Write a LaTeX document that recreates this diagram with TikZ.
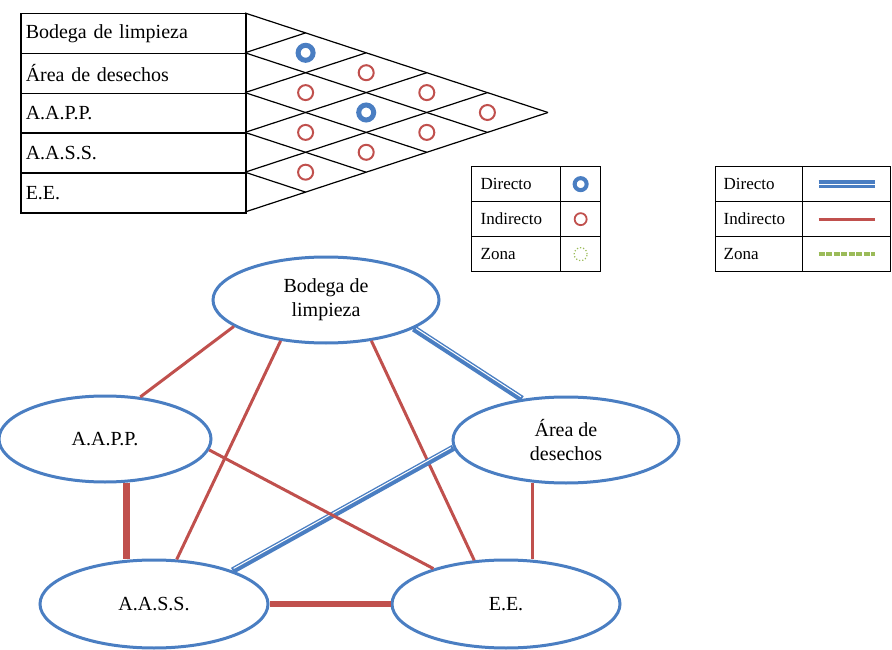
\documentclass[tikz,border=0pt]{standalone}
\usepackage{fontspec}
\setmainfont{Liberation Serif}
\usetikzlibrary{shapes.geometric}
\definecolor{eblue}{HTML}{4A7EC2}
\definecolor{ered}{HTML}{C0504D}
\definecolor{egreen}{HTML}{9BBB59}
\begin{document}
\begin{tikzpicture}[x=1pt,y=-1pt,
  rowbox/.style={draw,line width=1.5pt,minimum width=225pt,minimum height=39.8pt,anchor=north west,
    text width=215pt,align=left,inner xsep=5pt,inner ysep=0pt,font=\fontsize{20}{24}\selectfont},
  mline/.style={line width=1.2pt},
  mind/.style={circle,draw=ered,line width=2pt,minimum size=15pt,inner sep=0pt},
  mdir/.style={circle,draw=eblue,line width=5pt,minimum size=15pt,inner sep=0pt},
  lcell/.style={draw,line width=1.3pt,minimum height=35pt,anchor=north west,inner ysep=0pt,
    align=left,font=\fontsize{17}{20}\selectfont},
  zone/.style={ellipse,draw=eblue,line width=3pt,inner sep=0pt,align=center,
    font=\fontsize{20}{24}\selectfont},
  ind/.style={draw=ered,line width=3pt},
  indthick/.style={draw=ered,line width=6.5pt},
  dirband/.style={draw=eblue,line width=6.5pt},
  dirgap/.style={draw=white,line width=1pt,shorten <=2pt,shorten >=2pt},
  dirline/.style={draw=eblue,line width=3.2pt,double=white,double distance=1.2pt},
  zoneline/.style={draw=egreen,line width=4.5pt,dash pattern=on 6pt off 1.5pt}
]
\useasboundingbox (0,0) rectangle (892,650);

% ---- relationship table ----
\node[rowbox] (r0) at (20,13) {Bodega de limpieza};
\node[rowbox] (r1) at (20,52.8) {Área de desechos};
\node[rowbox] (r2) at (20,92.6) {A.A.P.P.};
\node[rowbox] (r3) at (20,132.4) {A.A.S.S.};
\node[rowbox] (r4) at (20,172.2) {E.E.};

\foreach \k in {0,...,5}{
  \draw[mline] (245,{13+39.8*\k}) -- ({245+60.6*(5-\k)},{13+39.8*\k+19.9*(5-\k)});
  \draw[mline] (245,{13+39.8*\k}) -- ({245+60.6*\k},{13+39.8*\k-19.9*\k});
}
\foreach \i/\j/\t in {0/1/mdir,0/2/mind,0/3/mind,0/4/mind,1/2/mind,1/3/mdir,1/4/mind,2/3/mind,2/4/mind,3/4/mind}
  \node[\t] (m\i\j) at ({245+60.6*(\j-\i)},{13+19.9*(\i+\j+1)}) {};

% ---- legend 1 ----
\node[lcell,minimum width=89pt,text width=71pt,inner xsep=9pt] (ad) at (471,166) {Directo};
\node[lcell,minimum width=89pt,text width=71pt,inner xsep=9pt] (ai) at (471,201) {Indirecto};
\node[lcell,minimum width=89pt,text width=71pt,inner xsep=9pt] (az) at (471,236) {Zona};
\node[lcell,minimum width=40pt] (ads) at (560,166) {};
\node[lcell,minimum width=40pt] (ais) at (560,201) {};
\node[lcell,minimum width=40pt] (azs) at (560,236) {};
\node[circle,draw=eblue,line width=4pt,minimum size=12pt,inner sep=0pt] (sd) at (ads.center) {};
\node[circle,draw=ered,line width=1.8pt,minimum size=12pt,inner sep=0pt] (si) at (ais.center) {};
\node[circle,draw=egreen,line width=1.2pt,dotted,minimum size=13pt,inner sep=0pt] (sz) at (azs.center) {};

% ---- legend 2 ----
\node[lcell,minimum width=87pt,text width=71pt,inner xsep=8pt] (bd) at (715,166) {Directo};
\node[lcell,minimum width=87pt,text width=71pt,inner xsep=8pt] (bi) at (715,201) {Indirecto};
\node[lcell,minimum width=87pt,text width=71pt,inner xsep=8pt] (bz) at (715,236) {Zona};
\node[lcell,minimum width=88pt] (bds) at (802,166) {};
\node[lcell,minimum width=88pt] (bis) at (802,201) {};
\node[lcell,minimum width=88pt] (bzs) at (802,236) {};
\draw[dirline] ([xshift=-28pt]bds.center) -- ([xshift=28pt]bds.center);
\draw[ind] ([xshift=-28pt]bis.center) -- ([xshift=28pt]bis.center);
\draw[zoneline] ([xshift=-28pt]bzs.center) -- ([xshift=28pt]bzs.center);

% ---- graph ----
\node[zone,minimum width=226pt,minimum height=86pt] (bod) at (326,300) {Bodega de\\limpieza};
\node[zone,minimum width=212pt,minimum height=86pt] (aapp) at (105,439) {A.A.P.P.};
\node[zone,minimum width=226pt,minimum height=86pt] (area) at (566,440) {Área de\\desechos};
\node[zone,minimum width=228pt,minimum height=88pt] (aass) at (154,604) {A.A.S.S.};
\node[zone,minimum width=228pt,minimum height=88pt] (ee) at (506,604) {E.E.};

\draw[ind] (bod.196) -- (aapp.50);
\draw[ind] (bod.222) -- (aass.63);
\draw[ind] (bod.318) -- (ee.126.7);
\draw[dirband] (bod.342) -- (area.137);
\draw[dirgap,transform canvas={shift={(0.7,-1.1)}}] (bod.342) -- (area.137);
\draw[dirband] (area.184) -- (aass.23);
\draw[dirgap,transform canvas={shift={(-0.65,-1.2)}}] (area.184) -- (aass.23);
\draw[ind] (area.232.2) -- (area.232.2 |- ee.north);
\draw[indthick] (aapp.296.5) -- (aapp.296.5 |- aass.north);
\draw[ind] (aapp.354.9) -- (ee.154.9);
\draw[indthick] (aass.east) -- (ee.west);
\end{tikzpicture}
\end{document}
